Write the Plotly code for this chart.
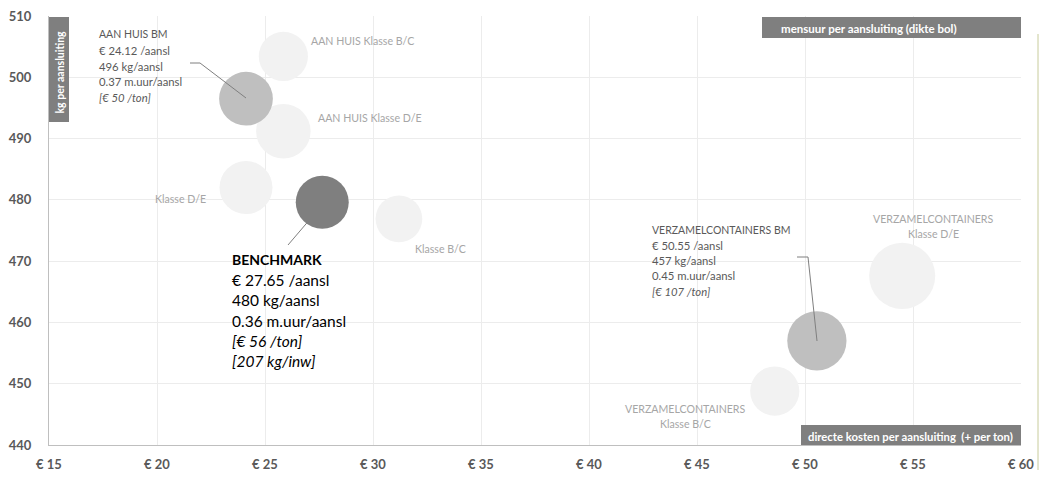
import plotly.graph_objects as go

# ---------------- data ----------------
names = ["AAN HUIS BM", "AAN HUIS Klasse B/C", "AAN HUIS Klasse D/E", "Klasse D/E",
         "BENCHMARK", "Klasse B/C", "VERZAMELCONTAINERS BM",
         "VERZAMELCONTAINERS Klasse B/C", "VERZAMELCONTAINERS Klasse D/E"]
cost_per_conn = [24.12, 25.85, 25.85, 24.12, 27.65, 31.2, 50.55, 48.6, 54.5]
kg_per_conn = [496.5, 503.4, 491.2, 482.0, 479.6, 476.9, 457.0, 448.8, 467.6]
manhours_per_conn = [0.37, 0.31, 0.38, 0.36, 0.36, 0.28, 0.45, 0.31, 0.56]
bubble_colors = ["#bfbfbf", "#f2f2f2", "#f2f2f2", "#f2f2f2", "#7f7f7f",
                 "#f2f2f2", "#bfbfbf", "#f2f2f2", "#f2f2f2"]

x_ticks = [15, 20, 25, 30, 35, 40, 45, 50, 55, 60]
x_ticktext = ["€ 15", "€ 20", "€ 25", "€ 30", "€ 35", "€ 40", "€ 45", "€ 50", "€ 55", "€ 60"]
y_ticks = [440, 450, 460, 470, 480, 490, 500, 510]

bm_aanhuis_lines = ["AAN HUIS BM", "€ 24.12 /aansl", "496 kg/aansl", "0.37 m.uur/aansl", "<i>[€ 50 /ton]</i>"]
bm_verzamel_lines = ["VERZAMELCONTAINERS BM", "€ 50.55 /aansl", "457 kg/aansl", "0.45 m.uur/aansl", "<i>[€ 107 /ton]</i>"]
benchmark_lines = ["<b>BENCHMARK</b>", "€ 27.65 /aansl", "480 kg/aansl", "0.36 m.uur/aansl",
                   "<i>[€ 56 /ton]</i>", "<i>[207 kg/inw]</i>"]

FONT = "Lato"
W, H = 1039, 478
# plot area in page pixels
PL, PR, PT, PB = 49, 1021, 16, 445
L, R, T, B = PL, W - PR, PT, H - PB
XMIN, XMAX, YMIN, YMAX = 15, 60, 440, 510
pw, ph = PR - PL, PB - PT


def dx(px):
    return XMIN + (px - PL) / pw * (XMAX - XMIN)


def dy(py):
    return YMAX - (py - PT) / ph * (YMAX - YMIN)


# draw light bubbles first, then highlighted ones
order = [i for i, c in enumerate(bubble_colors) if c == "#f2f2f2"] + \
        [i for i, c in enumerate(bubble_colors) if c != "#f2f2f2"]

fig = go.Figure()
fig.add_trace(go.Scatter(
    x=[cost_per_conn[i] for i in order],
    y=[kg_per_conn[i] for i in order],
    mode="markers",
    text=[names[i] for i in order],
    marker=dict(
        size=[manhours_per_conn[i] for i in order],
        sizemode="area",
        sizeref=0.18 / (26.5 ** 2),
        color=[bubble_colors[i] for i in order],
        opacity=1,
        line=dict(width=0),
    ),
    hoverinfo="text",
    showlegend=False,
))

ann = []
shapes = []


def line_block(lines, x_px, y_px_list, sizes, color):
    for t, yy, sz in zip(lines, y_px_list, sizes):
        ann.append(dict(x=dx(x_px), y=dy(yy), xref="x", yref="y", text=t, showarrow=False,
                        xanchor="left", yanchor="middle",
                        font=dict(family=FONT, size=sz, color=color)))


line_block(bm_aanhuis_lines, 97, [34, 50, 66, 81, 97], [10.5, 11.3, 11.3, 11.3, 11.3], "#595959")
line_block(bm_verzamel_lines, 650, [230, 245, 260, 275, 291], [10.5, 11.3, 11.3, 11.3, 11.3], "#595959")
line_block(benchmark_lines, 230, [259, 280, 300, 321, 341, 361], [14, 15.5, 15.5, 15.5, 15.5, 15.5], "#000000")

light = "#a6a6a6"


def light_label(text, x_px, y_px, anchor="left"):
    ann.append(dict(x=dx(x_px), y=dy(y_px), xref="x", yref="y", text=text, showarrow=False,
                    xanchor=anchor, yanchor="middle",
                    font=dict(family=FONT, size=10.6, color=light)))


light_label("AAN HUIS Klasse B/C", 309, 41)
light_label("AAN HUIS Klasse D/E", 316, 118)
light_label("Klasse D/E", 153, 199)
light_label("Klasse B/C", 413, 249)
light_label("VERZAMELCONTAINERS", 933, 219, "center")
light_label("Klasse D/E", 933, 234, "center")
light_label("VERZAMELCONTAINERS", 685, 409, "center")
light_label("Klasse B/C", 685, 424, "center")

# leader lines
leader = dict(color="#7f7f7f", width=1)
shapes.append(dict(type="path", xref="x", yref="y",
                   path=f"M {dx(190)},{dy(63)} L {dx(200)},{dy(63)} L {dx(246)},{dy(98)}",
                   line=leader))
shapes.append(dict(type="path", xref="x", yref="y",
                   path=f"M {dx(797)},{dy(257)} L {dx(808)},{dy(257)} L {dx(817)},{dy(341)}",
                   line=leader))
shapes.append(dict(type="line", xref="x", yref="y",
                   x0=dx(288), y0=dy(245), x1=dx(323), y1=dy(204), line=leader))

# title boxes
box_col = "#7f7f7f"
shapes.append(dict(type="rect", xref="x", yref="y", x0=dx(49), x1=dx(69), y0=dy(17), y1=dy(122),
                   fillcolor=box_col, line=dict(width=0)))
ann.append(dict(x=dx(59.5), y=dy(72), xref="x", yref="y", text="<b>kg per aansluiting</b>",
                showarrow=False, textangle=-90, xanchor="center", yanchor="middle",
                font=dict(family=FONT, size=10.5, color="white")))
shapes.append(dict(type="rect", xref="x", yref="y", x0=dx(762), x1=dx(1021), y0=dy(17), y1=dy(38),
                   fillcolor=box_col, line=dict(width=0)))
ann.append(dict(x=dx(779), y=dy(28), xref="x", yref="y", text="<b>mensuur per aansluiting (dikte bol)</b>",
                showarrow=False, xanchor="left", yanchor="middle",
                font=dict(family=FONT, size=11.5, color="white")))
shapes.append(dict(type="rect", xref="x", yref="y", x0=dx(801), x1=dx(1022), y0=dy(425), y1=dy(445),
                   fillcolor=box_col, line=dict(width=0)))
ann.append(dict(x=dx(806), y=dy(436), xref="x", yref="y",
                text="<b>directe kosten per aansluiting  (+ per ton)</b>",
                showarrow=False, xanchor="left", yanchor="middle",
                font=dict(family=FONT, size=11.3, color="white")))

# thin olive line at right edge
shapes.append(dict(type="line", xref="paper", yref="paper",
                   x0=(1038 - PL) / pw, x1=(1038 - PL) / pw,
                   y0=(PB - 34) / ph, y1=(PB - 470) / ph,
                   line=dict(color="#c8cc9c", width=1)))

fig.update_layout(
    width=W, height=H,
    margin=dict(l=L, r=R, t=T, b=B, autoexpand=False),
    paper_bgcolor="white", plot_bgcolor="white",
    annotations=ann, shapes=shapes,
    font=dict(family=FONT),
)
fig.update_xaxes(range=[XMIN, XMAX], tickvals=x_ticks, ticktext=x_ticktext,
                 showgrid=True, gridcolor="#ececec", gridwidth=1, automargin=False,
                 zeroline=False, showline=True, linecolor="#bfbfbf", linewidth=1,
                 ticks="", ticklabelstandoff=7, ticklabeloverflow="allow",
                 tickfont=dict(family=FONT, size=13, color="#595959", weight="bold"),
                 mirror=False)
fig.update_yaxes(range=[YMIN, YMAX], tickvals=y_ticks,
                 showgrid=True, gridcolor="#ececec", gridwidth=1, automargin=False,
                 zeroline=False, showline=True, linecolor="#bfbfbf", linewidth=1,
                 ticks="", ticklabelstandoff=14, ticklabeloverflow="allow",
                 tickfont=dict(family=FONT, size=13, color="#595959", weight="bold"))

fig.write_html("out.html", config={"displayModeBar": False},
               post_script="document.body.style.margin='0';document.body.style.overflow='hidden';")
